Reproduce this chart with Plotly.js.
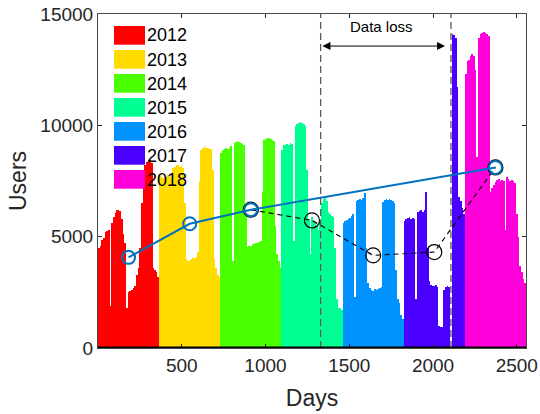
<!DOCTYPE html>
<html><head><meta charset="utf-8">
<script src="https://cdn.plot.ly/plotly-3.0.1.min.js"></script>
<style>html,body{margin:0;padding:0;background:#fff}#chart{width:540px;height:414px}</style>
</head><body><div id="chart"></div>
<script>
// ---- data ----
const years = ['2012', '2013', '2014', '2015', '2016', '2017', '2018'];
const yearColors = ['#FF0000', '#FFDB00', '#49FF00', '#00FF92', '#0092FF', '#4900FF', '#FF00DB'];
const daysPerYear = 365;
// daily users, one value per ~10-day bin within each year
const y2012 = [4500,4600,4850,4950,5200,5250,5300,1900,5600,5900,6050,6200,6200,6150,5800,5100,4700,1800,2500,2550,2600,2700,2800,3300,3600,4500,6500,7800,8200,8350,8400,8450,8300,3600,3500,3400,3200];
const y2013 = [7800,7700,7650,7700,7700,7750,7700,7250,8100,8150,8200,8200,8150,8200,8100,6500,4000,3900,3950,4000,4050,4050,4100,4300,7500,8900,9000,9050,9000,9000,8950,8950,8000,4000,3600,3300,3200];
const y2014 = [8750,8900,8950,9000,8950,9000,9050,3900,9200,9250,9300,9250,9200,9150,9100,6000,4550,4600,4600,4650,4650,4700,4700,4750,4800,7000,9350,9400,9450,9450,9400,9350,9300,5500,4200,3900,3600];
const y2015 = [8900,9100,9100,9150,9100,9200,9150,4800,9950,10050,10100,10150,10100,10050,9950,8000,5800,4200,5900,5700,5600,5500,5300,5800,6500,6700,6800,6600,6100,6000,5950,5900,4500,2200,1800,1800,1700];
const y2016 = [5600,5700,5750,5800,5850,5950,6000,2300,6600,6650,6700,6650,6750,6950,4500,2900,2700,2600,2550,2650,2600,2650,2700,2750,6550,6650,6700,6650,6700,6650,6600,6500,3500,2200,2000,1500,1300];
const y2017 = [5700,5800,5850,5900,5800,5850,5800,2200,6100,6150,6200,6100,6200,7000,4500,3000,2850,2800,2800,2850,2750,1000,950,950,2600,2750,2800,2750,0,14100,14050,13900,11700,6800,6600,6300,6000];
const y2018 = [12300,12900,12950,13100,13200,13100,12500,8600,13900,14100,14150,14200,14150,14100,14000,7000,7200,7300,7450,7550,7600,7500,7550,7500,5300,7700,7600,7500,7550,7500,7400,6000,5000,3700,3400,3100,2900];
const yearValues = [y2012, y2013, y2014, y2015, y2016, y2017, y2018];

// yearly averages (solid blue) and averages over the data-loss years (dashed black)
const meanDays = [182.5, 547.5, 912.5, 2372.5];
const meanUsers = [4070, 5580, 6210, 8110];
const lossMeanDays = [912.5, 1277.5, 1642.5, 2007.5, 2372.5];
const lossMeanUsers = [6210, 5730, 4160, 4310, 8110];
const lossStartDay = 1329;
const lossEndDay = 2107;
const lossLabel = 'Data loss';

const xTickVals = [500, 1000, 1500, 2000, 2500];
const yTickVals = [0, 5000, 10000, 15000];
const xTitle = 'Days';
const yTitle = 'Users';

// ---- traces ----
const traces = [];
yearValues.forEach((vals, k) => {
  const w = daysPerYear / vals.length;
  traces.push({
    type: 'bar',
    x: vals.map((_, i) => k * daysPerYear + (i + 0.5) * w),
    y: vals,
    width: w,
    name: years[k],
    marker: {color: yearColors[k], line: {width: 0}},
    hoverinfo: 'skip'
  });
});
traces.push({
  type: 'scatter', mode: 'lines+markers',
  x: lossMeanDays, y: lossMeanUsers,
  line: {color: '#000', width: 1.2, dash: '5px,4px'},
  marker: {symbol: 'circle-open', size: 15, color: '#000', line: {width: 1.2}},
  hoverinfo: 'skip'
});
traces.push({
  type: 'scatter', mode: 'lines+markers',
  x: meanDays, y: meanUsers,
  line: {color: '#0072BD', width: 2},
  marker: {symbol: 'circle-open', size: 13, color: '#0072BD', line: {width: 2}},
  hoverinfo: 'skip'
});

// ---- layout ----
const L = 98, R = 14, T = 14, B = 66, W = 540, H = 414;
const pw = W - L - R, ph = H - T - B;
const px = v => (v - L) / pw;
const py = v => (H - B - v) / ph;

const shapes = [
  {type: 'line', xref: 'x', yref: 'paper', x0: lossStartDay, x1: lossStartDay, y0: 0, y1: 1,
   line: {color: '#5a5a5a', width: 1.3, dash: '7px,4px'}, layer: 'above'},
  {type: 'line', xref: 'x', yref: 'paper', x0: lossEndDay, x1: lossEndDay, y0: 0, y1: 1,
   line: {color: '#5a5a5a', width: 1.3, dash: '7px,4px'}, layer: 'above'},
  {type: 'line', xref: 'paper', yref: 'y', x0: 0, x1: 1, y0: 0, y1: 0,
   line: {color: '#000', width: 3}, layer: 'above'}
];
const annotations = [
  {x: 2072, y: 13560, ax: 1331, ay: 13560, xref: 'x', yref: 'y', axref: 'x', ayref: 'y',
   text: '', showarrow: true, arrowhead: 2, startarrowhead: 2, arrowside: 'end+start',
   arrowsize: 1.6, startarrowsize: 1.6, arrowwidth: 1, arrowcolor: '#000', standoff: 0, startstandoff: 0},
  {x: 1695, y: 14460, xref: 'x', yref: 'y', text: lossLabel, showarrow: false,
   font: {size: 15, color: '#000'}}
];
years.forEach((yr, k) => {
  shapes.push({type: 'rect', xref: 'paper', yref: 'paper',
    x0: px(114), x1: px(145), y0: py(44.7 + 24 * k), y1: py(26 + 24 * k),
    fillcolor: yearColors[k], line: {width: 0}, layer: 'above'});
  annotations.push({xref: 'paper', yref: 'paper', x: px(145), y: py(35.5 + 24 * k),
    xanchor: 'left', yanchor: 'middle', text: yr, showarrow: false,
    font: {size: 18, color: '#000'}});
});

const axisCommon = {
  ticks: 'inside', ticklen: 4, tickwidth: 1, tickcolor: '#262626',
  showline: true, linecolor: '#4a4a4a', linewidth: 1, mirror: 'ticks',
  showgrid: false, zeroline: false, tickfont: {size: 19, color: '#262626'},
  tickformat: 'd'
};
const layout = {
  width: W, height: H,
  margin: {l: L, r: R, t: T, b: B},
  paper_bgcolor: '#fff', plot_bgcolor: '#fff',
  font: {family: 'Liberation Sans, Arial, sans-serif', color: '#262626'},
  showlegend: false, barmode: 'overlay', bargap: 0,
  xaxis: Object.assign({}, axisCommon, {range: [0, 2555], tickvals: xTickVals,
    title: {text: xTitle, font: {size: 23, color: '#262626'}, standoff: 15}}),
  yaxis: Object.assign({}, axisCommon, {range: [0, 15000], tickvals: yTickVals,
    title: {text: yTitle, font: {size: 23, color: '#262626'}, standoff: 7}}),
  shapes: shapes,
  annotations: annotations
};
Plotly.newPlot('chart', traces, layout, {displayModeBar: false, staticPlot: true});
</script>
</body></html>
